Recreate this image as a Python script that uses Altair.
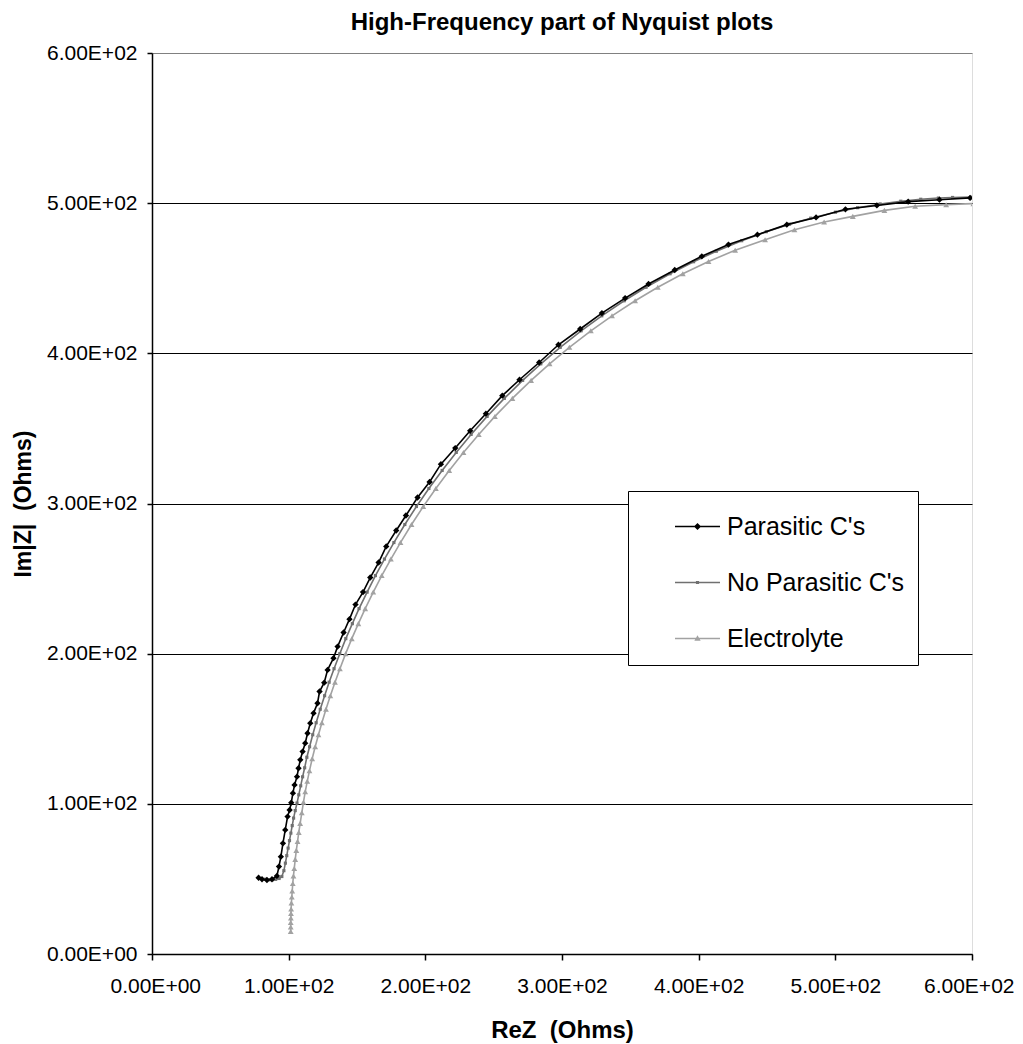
import altair as alt
import pandas as pd

series_names = ["Parasitic C's", "No Parasitic C's", "Electrolyte"]
series_colors = ["#000000", "#707070", "#a2a2a2"]

parasitic_x = [78.0, 80.5, 84.1, 87.8, 91.4, 92.9, 94.3, 95.8, 97.5, 99.2, 100.7, 101.9, 103.1, 104.3,
               106.1, 107.2, 108.5, 110.2, 112.1, 113.8, 115.8, 118.2, 121.1, 122.6, 126.0, 128.5,
               132.8, 135.8, 140.2, 144.5, 148.9, 154.4, 159.7, 165.8, 171.4, 178.7, 185.8, 194.3,
               203.1, 211.4, 221.9, 232.8, 244.3, 256.3, 268.9, 283.3, 297.4, 313.3, 329.2, 346.2,
               363.3, 382.5, 402.3, 421.8, 443.0, 464.5, 485.9, 507.4, 530.4, 553.3, 576.2, 598.6]
parasitic_y = [50.8, 49.8, 49.3, 49.8, 52.0, 58.2, 64.8, 73.7, 82.6, 91.5, 95.9, 100.8, 107.1, 112.6,
               118.1, 123.7, 129.3, 134.8, 140.4, 147.0, 153.7, 160.4, 167.0, 174.8, 180.7, 189.2,
               197.0, 204.7, 214.1, 223.0, 232.7, 241.0, 250.7, 260.7, 271.4, 282.0, 292.0, 304.0,
               314.3, 326.2, 336.9, 348.4, 359.8, 371.8, 382.4, 393.9, 405.7, 416.2, 426.8, 436.8,
               446.2, 455.5, 464.6, 472.4, 479.0, 485.7, 490.5, 495.9, 498.5, 501.0, 502.3, 503.5]

noparasitic_x = [83.0, 85.5, 88.0, 90.5, 93.0, 95.0, 96.5, 97.6, 98.6, 99.6, 100.6, 101.6, 102.6, 103.6,
                 104.8, 106.1, 107.4, 108.8, 110.2, 111.7, 113.3, 115.3, 117.6, 120.1, 123.1, 126.3,
                 129.6, 133.2, 137.4, 141.8, 146.6, 151.5, 157.4, 163.5, 170.1, 177.0, 185.0, 193.5,
                 202.6, 212.3, 222.6, 233.5, 245.2, 257.8, 271.2, 284.5, 298.7, 314.0, 329.1, 345.5,
                 361.5, 379.1, 396.3, 412.9, 431.5, 449.5, 466.5, 482.0, 500.1, 516.3, 532.8, 547.9,
                 562.5, 575.4, 585.8, 599.0]
noparasitic_y = [49.8, 49.4, 49.4, 49.7, 50.3, 51.6, 55.5, 60.5, 65.5, 70.5, 75.5, 80.5, 85.5, 90.5,
                 95.5, 100.5, 106.0, 112.0, 118.0, 124.0, 131.0, 138.0, 146.0, 154.0, 163.0, 172.0,
                 181.0, 190.0, 200.0, 210.0, 220.0, 230.0, 241.0, 252.0, 263.0, 274.0, 286.0, 298.0,
                 310.0, 322.0, 334.0, 346.0, 358.0, 370.0, 382.0, 393.0, 404.0, 415.0, 425.0, 435.0,
                 444.0, 453.0, 461.0, 468.0, 475.0, 481.0, 486.0, 490.0, 494.0, 497.0, 499.5, 501.3,
                 502.6, 503.4, 503.8, 504.0]

electrolyte_x = [101.5, 101.5, 101.5, 101.6, 101.7, 101.8, 102.0, 102.3, 102.6, 103.0, 103.5, 104.1,
                 104.8, 105.6, 106.5, 107.4, 108.4, 109.6, 110.8, 112.1, 113.6, 115.2, 117.2, 119.4,
                 121.8, 124.3, 127.3, 130.5, 133.9, 137.5, 141.7, 146.2, 151.0, 156.0, 161.9, 168.1,
                 174.8, 181.8, 189.9, 198.5, 207.7, 217.5, 227.9, 239.1, 250.9, 263.7, 277.4, 290.9,
                 305.4, 321.1, 336.6, 353.5, 370.1, 388.4, 407.2, 426.7, 448.6, 470.1, 491.8, 512.8,
                 535.9, 558.4, 581.1, 601.0]
electrolyte_y = [15.0, 18.0, 21.0, 24.0, 27.0, 30.0, 34.0, 38.0, 42.0, 47.0, 52.0, 57.0,
                 63.0, 69.0, 75.0, 81.0, 87.0, 94.0, 101.0, 108.0, 115.0, 122.0, 130.0, 138.0,
                 146.0, 154.0, 163.0, 172.0, 181.0, 190.0, 200.0, 210.0, 220.0, 230.0, 241.0, 252.0,
                 263.0, 274.0, 286.0, 298.0, 310.0, 322.0, 334.0, 346.0, 358.0, 370.0, 382.0, 393.0,
                 404.0, 415.0, 425.0, 435.0, 444.0, 453.0, 461.2, 468.6, 475.7, 482.3, 487.5, 491.2,
                 495.2, 497.9, 499.0, 499.7]

tick_values = [0, 100, 200, 300, 400, 500, 600]

rows = []
for name, xs, ys in [(series_names[0], parasitic_x, parasitic_y),
                     (series_names[1], noparasitic_x, noparasitic_y),
                     (series_names[2], electrolyte_x, electrolyte_y)]:
    for i, (xv, yv) in enumerate(zip(xs, ys)):
        rows.append({"series": name, "idx": i, "x": xv, "y": yv})
df = pd.DataFrame(rows)

FONT = "Liberation Sans"
label_expr = "replace(format(datum.value, '.2e'), 'e+', 'E+0')"

x_axis = alt.Axis(values=tick_values, labelExpr=label_expr, grid=False,
                  labelFont=FONT, labelFontSize=21, labelColor="black",
                  labelFlush=True, labelFlushOffset=42,
                  labelOverlap=False, labelPadding=15,
                  tickColor="black", tickSize=6, tickWidth=1.5,
                  domainColor="black", domainWidth=1.5,
                  title="ReZ\u00a0 (Ohms)", titleFont=FONT, titleFontSize=24, titleFontWeight="bold",
                  titleColor="black", titleBaseline="middle", titleY=76)
y_axis = alt.Axis(values=tick_values, labelExpr=label_expr, grid=True,
                  gridColor={"condition": {"test": "datum.value >= 600", "value": "#808080"}, "value": "black"},
                  gridWidth=1.2,
                  labelFont=FONT, labelFontSize=21, labelColor="black", labelFlush=False,
                  labelOverlap=False, labelPadding=10,
                  tickColor="black", tickSize=5, tickWidth=1.5,
                  domainColor="black", domainWidth=1.5,
                  title="Im|Z|\u00a0 (Ohms)", titleFont=FONT, titleFontSize=23, titleFontWeight="bold",
                  titleColor="black", titleBaseline="middle", titleX=-129)

X = alt.X("x:Q", scale=alt.Scale(domain=[0, 600], nice=False, zero=False), axis=x_axis)
Y = alt.Y("y:Q", scale=alt.Scale(domain=[0, 600], nice=False, zero=False), axis=y_axis)

marker_shapes = ["diamond", "square", "triangle-up"]
marker_sizes = [40, 10, 34]

layers = []
for k in [2, 1, 0]:
    name = series_names[k]
    base = alt.Chart(df).transform_filter(alt.datum.series == name)
    layers.append(base.mark_line(color=series_colors[k], strokeWidth=1.6, clip=True)
                  .encode(x=X, y=Y, order="idx:Q"))
    layers.append(base.mark_point(shape=marker_shapes[k], filled=True, size=marker_sizes[k],
                                  color=series_colors[k], opacity=1, clip=True)
                  .encode(x=X, y=Y))

legend_paths = [
    "M-1,-0.033H1V0.033H-1Z M0,-0.16L0.16,0L0,0.16L-0.16,0Z",
    "M-1,-0.033H1V0.033H-1Z M-0.07,-0.07H0.07V0.07H-0.07Z",
    "M-1,-0.033H1V0.033H-1Z M0,-0.14L0.14,0.1H-0.14Z",
]
leg = alt.Legend(orient="none", legendX=476, legendY=438, title=None,
                 padding=13, fillColor="white", strokeColor="black",
                 symbolSize=2025, symbolStrokeWidth=0, symbolOffset=34,
                 labelFont=FONT, labelFontSize=25, labelColor="black", labelOffset=7,
                 rowPadding=20, labelLimit=400)
legend_layer = (alt.Chart(df).transform_filter("false")
                .mark_point(filled=True, opacity=1)
                .encode(x=X, y=Y,
                        color=alt.Color("series:N", scale=alt.Scale(domain=series_names, range=series_colors), legend=leg),
                        shape=alt.Shape("series:N", scale=alt.Scale(domain=series_names, range=legend_paths), legend=leg)))

chart = (alt.layer(*layers, legend_layer)
         .properties(width=820, height=901,
                     title=alt.TitleParams("High-Frequency part of Nyquist plots", font=FONT, fontSize=24,
                                           fontWeight="bold", color="black", anchor="middle",
                                           frame="group", offset=7),
                     padding={"left": 144, "top": 45, "right": 42, "bottom": 90},
                     autosize=alt.AutoSizeParams(type="none"))
         .configure_view(stroke="#808080", strokeWidth=1.5)
         .configure(background="white"))

chart.save("out.html", embed_options={"renderer": "svg", "actions": False})
